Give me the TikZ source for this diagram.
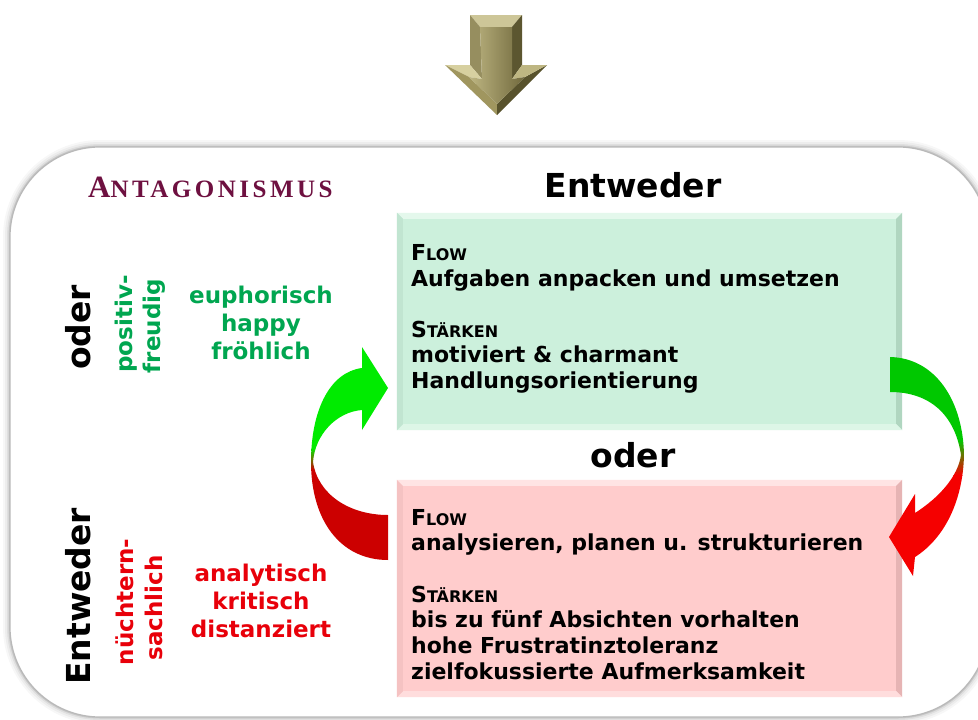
\documentclass[tikz,border=0pt]{standalone}
\usepackage{fontspec}
\setmainfont{DejaVu Sans}
\newfontfamily\titleserif[LetterSpace=14]{Liberation Serif}
\usetikzlibrary{calc}
\definecolor{mint}{RGB}{204,240,220}
\definecolor{mintlight}{RGB}{228,248,236}
\definecolor{mintdark}{RGB}{176,214,192}
\definecolor{rose}{RGB}{255,204,204}
\definecolor{roselight}{RGB}{255,228,228}
\definecolor{rosedark}{RGB}{230,180,180}
\definecolor{txtgreen}{RGB}{0,166,80}
\definecolor{txtred}{RGB}{232,0,10}
\definecolor{titlemaroon}{RGB}{110,16,64}
\definecolor{arrgreenA}{RGB}{0,235,0}
\definecolor{arrredA}{RGB}{204,0,0}
\definecolor{arrgreenB}{RGB}{0,200,0}
\definecolor{arrredB}{RGB}{245,0,0}
\definecolor{olTop}{RGB}{205,198,152}
\definecolor{olShL}{RGB}{150,142,95}
\definecolor{olShR}{RGB}{92,86,48}
\definecolor{olHUL}{RGB}{215,208,160}
\definecolor{olHLL}{RGB}{160,150,95}
\definecolor{olHLR}{RGB}{88,82,44}
\definecolor{olHUR}{RGB}{190,182,130}
\definecolor{olCL}{RGB}{190,182,130}
\definecolor{olCR}{RGB}{112,104,60}
\newcommand\fakesc[2]{{\fontsize{22}{22}\selectfont #1}{\fontsize{16}{16}\selectfont #2}}
\tikzset{
  boxline/.style={anchor=base west, inner sep=0pt, font=\fontsize{22}{22}\selectfont\bfseries},
  headline/.style={anchor=base, inner sep=0pt, font=\fontsize{33}{33}\selectfont\bfseries},
  sideword/.style={anchor=base, inner sep=0pt, font=\fontsize{23}{23}\selectfont\bfseries},
  sidebig/.style={anchor=base west, inner sep=0pt, rotate=90, font=\fontsize{33}{33}\selectfont\bfseries},
  sidesmall/.style={anchor=base, inner sep=0pt, rotate=90, font=\fontsize{23}{23}\selectfont\bfseries},
  panel/.style={inner sep=0pt, minimum width=505pt, minimum height=217pt},
}
\begin{document}
\begin{tikzpicture}[x=1pt,y=-1pt]
\useasboundingbox (0,0) rectangle (978,720);
\clip (0,0) rectangle (978,720);
\fill[white] (0,0) rectangle (978,720);

% ---- top 3D arrow ----
\coordinate (A) at (470,15); \coordinate (B) at (522,15);
\coordinate (C) at (522,65); \coordinate (D) at (547,65);
\coordinate (E) at (497,115); \coordinate (F) at (445,65);
\coordinate (G) at (470,65);
\coordinate (a) at (480,27); \coordinate (b) at (512,27);
\coordinate (c) at (512,79); \coordinate (d) at (525,77);
\coordinate (e) at (497,104); \coordinate (f) at (469,77);
\coordinate (g) at (482,79);
\fill[olTop] (A)--(B)--(b)--(a)--cycle;
\fill[olShL] (A)--(a)--(g)--(G)--cycle;
\fill[olShR] (B)--(C)--(c)--(b)--cycle;
\fill[olHUL] (G)--(F)--(f)--(g)--cycle;
\fill[olHLL] (F)--(E)--(e)--(f)--cycle;
\fill[olHLR] (E)--(D)--(d)--(e)--cycle;
\fill[olHUR] (D)--(C)--(c)--(d)--cycle;
\shade[left color=olCL, right color=olCR] (a)--(b)--(c)--(d)--(e)--(f)--(g)--cycle;

% ---- big rounded frame ----
\foreach \w/\o in {14/0.03,10/0.04,6/0.06,3/0.10}{
  \draw[black, opacity=\o, line width=\w pt, rounded corners=90pt] (10,147) rectangle (988,717);
}
\fill[white, rounded corners=90pt] (10,147) rectangle (988,717);
\draw[gray!55, line width=1.2pt, rounded corners=90pt] (10,147) rectangle (988,717);

% ---- panels ----
\node[panel, fill=mint] (gbox) at (649.5,321.5) {};
\fill[mintlight] (gbox.north west) -- (gbox.north east) -- ($(gbox.north east)+(-6,6)$) -- ($(gbox.north west)+(6,6)$) -- cycle;
\fill[mintdark] (gbox.north east) -- (gbox.south east) -- ($(gbox.south east)+(-6,-6)$) -- ($(gbox.north east)+(-6,6)$) -- cycle;
\fill[mintlight!70!mint] (gbox.south west) -- (gbox.south east) -- ($(gbox.south east)+(-6,-6)$) -- ($(gbox.south west)+(6,-6)$) -- cycle;
\fill[mintdark!40!mint] (gbox.north west) -- (gbox.south west) -- ($(gbox.south west)+(6,-6)$) -- ($(gbox.north west)+(6,6)$) -- cycle;

\node[panel, fill=rose] (rbox) at (649.5,588.5) {};
\fill[roselight] (rbox.north west) -- (rbox.north east) -- ($(rbox.north east)+(-6,6)$) -- ($(rbox.north west)+(6,6)$) -- cycle;
\fill[rosedark] (rbox.north east) -- (rbox.south east) -- ($(rbox.south east)+(-6,-6)$) -- ($(rbox.north east)+(-6,6)$) -- cycle;
\fill[roselight!70!rose] (rbox.south west) -- (rbox.south east) -- ($(rbox.south east)+(-6,-6)$) -- ($(rbox.south west)+(6,-6)$) -- cycle;
\fill[rosedark!40!rose] (rbox.north west) -- (rbox.south west) -- ($(rbox.south west)+(6,-6)$) -- ($(rbox.north west)+(6,6)$) -- cycle;

% ---- panel texts ----
\node[boxline] (g1) at (411,260) {\fakesc{F}{LOW}};
\node[boxline] (g2) at (411,286) {Aufgaben anpacken und umsetzen};
\node[boxline] (g3) at (411,337) {\fakesc{S}{TÄRKEN}};
\node[boxline] (g4) at (411,362) {motiviert \& charmant};
\node[boxline] (g5) at (411,388) {Handlungsorientierung};

\node[boxline] (r1) at (411,525) {\fakesc{F}{LOW}};
\node[boxline] (r2) at (411,550) {analysieren, planen u. strukturieren};
\node[boxline] (r3) at (411,602) {\fakesc{S}{TÄRKEN}};
\node[boxline] (r4) at (411,627) {bis zu fünf Absichten vorhalten};
\node[boxline] (r5) at (411,653) {hohe Frustratinztoleranz};
\node[boxline] (r6) at (411,679) {zielfokussierte Aufmerksamkeit};

% ---- headings ----
\node[headline] (hEnt) at (633,197) {Entweder};
\node[headline] (hOder) at (633,467) {oder};
\node[anchor=base west, inner sep=0pt, text=titlemaroon] (anta) at (88,197)
  {\titleserif\bfseries{\fontsize{31}{31}\selectfont A}{\fontsize{25}{25}\selectfont NTAGONISMUS}};

% ---- left side texts ----
\node[sidebig] (vOder) at (90,370) {oder};
\node[sidebig] (vEnt) at (90,685) {Entweder};
\node[sidesmall, text=txtgreen] (pos1) at (132,324) {positiv-};
\node[sidesmall, text=txtgreen] (pos2) at (160,326) {freudig};
\node[sidesmall, text=txtred] (nue1) at (133,602) {nüchtern-};
\node[sidesmall, text=txtred] (nue2) at (162,608) {sachlich};
\node[sideword, text=txtgreen] (w1) at (261,303) {euphorisch};
\node[sideword, text=txtgreen] (w2) at (261,331) {happy};
\node[sideword, text=txtgreen] (w3) at (261,359) {fröhlich};
\node[sideword, text=txtred] (w4) at (261,581) {analytisch};
\node[sideword, text=txtred] (w5) at (261,609) {kritisch};
\node[sideword, text=txtred] (w6) at (261,637) {distanziert};

% ---- left curved arrow (red -> green) ----
\begin{scope}
\clip (388,560) .. controls (340,560) and (311,520) .. (311,462)
  .. controls (311,410) and (330,372) .. (362,368)
  -- (362,347) -- (388,388) -- (362,430) -- (362,410)
  .. controls (336,412) and (315,435) .. (313,462)
  .. controls (318,495) and (350,515) .. (388,515) -- cycle;
\fill[arrgreenA] (290,330) rectangle (400,448);
\shade[top color=arrgreenA, bottom color=arrredA] (290,448) rectangle (400,470);
\fill[arrredA] (290,470) rectangle (400,570);
\end{scope}

% ---- right curved arrow (green -> red) ----
\begin{scope}
\clip (890,357) .. controls (935,358) and (963,400) .. (964,455)
  .. controls (963,500) and (945,538) .. (915,557)
  -- (913,576) -- (889,537) -- (915,494) -- (915,513)
  .. controls (940,497) and (958,476) .. (961,455)
  .. controls (955,415) and (930,392) .. (890,392) -- cycle;
\fill[arrgreenB] (880,340) rectangle (978,440);
\shade[top color=arrgreenB, bottom color=arrredB] (880,440) rectangle (978,475);
\fill[arrredB] (880,475) rectangle (978,590);
\end{scope}
\end{tikzpicture}
\end{document}
